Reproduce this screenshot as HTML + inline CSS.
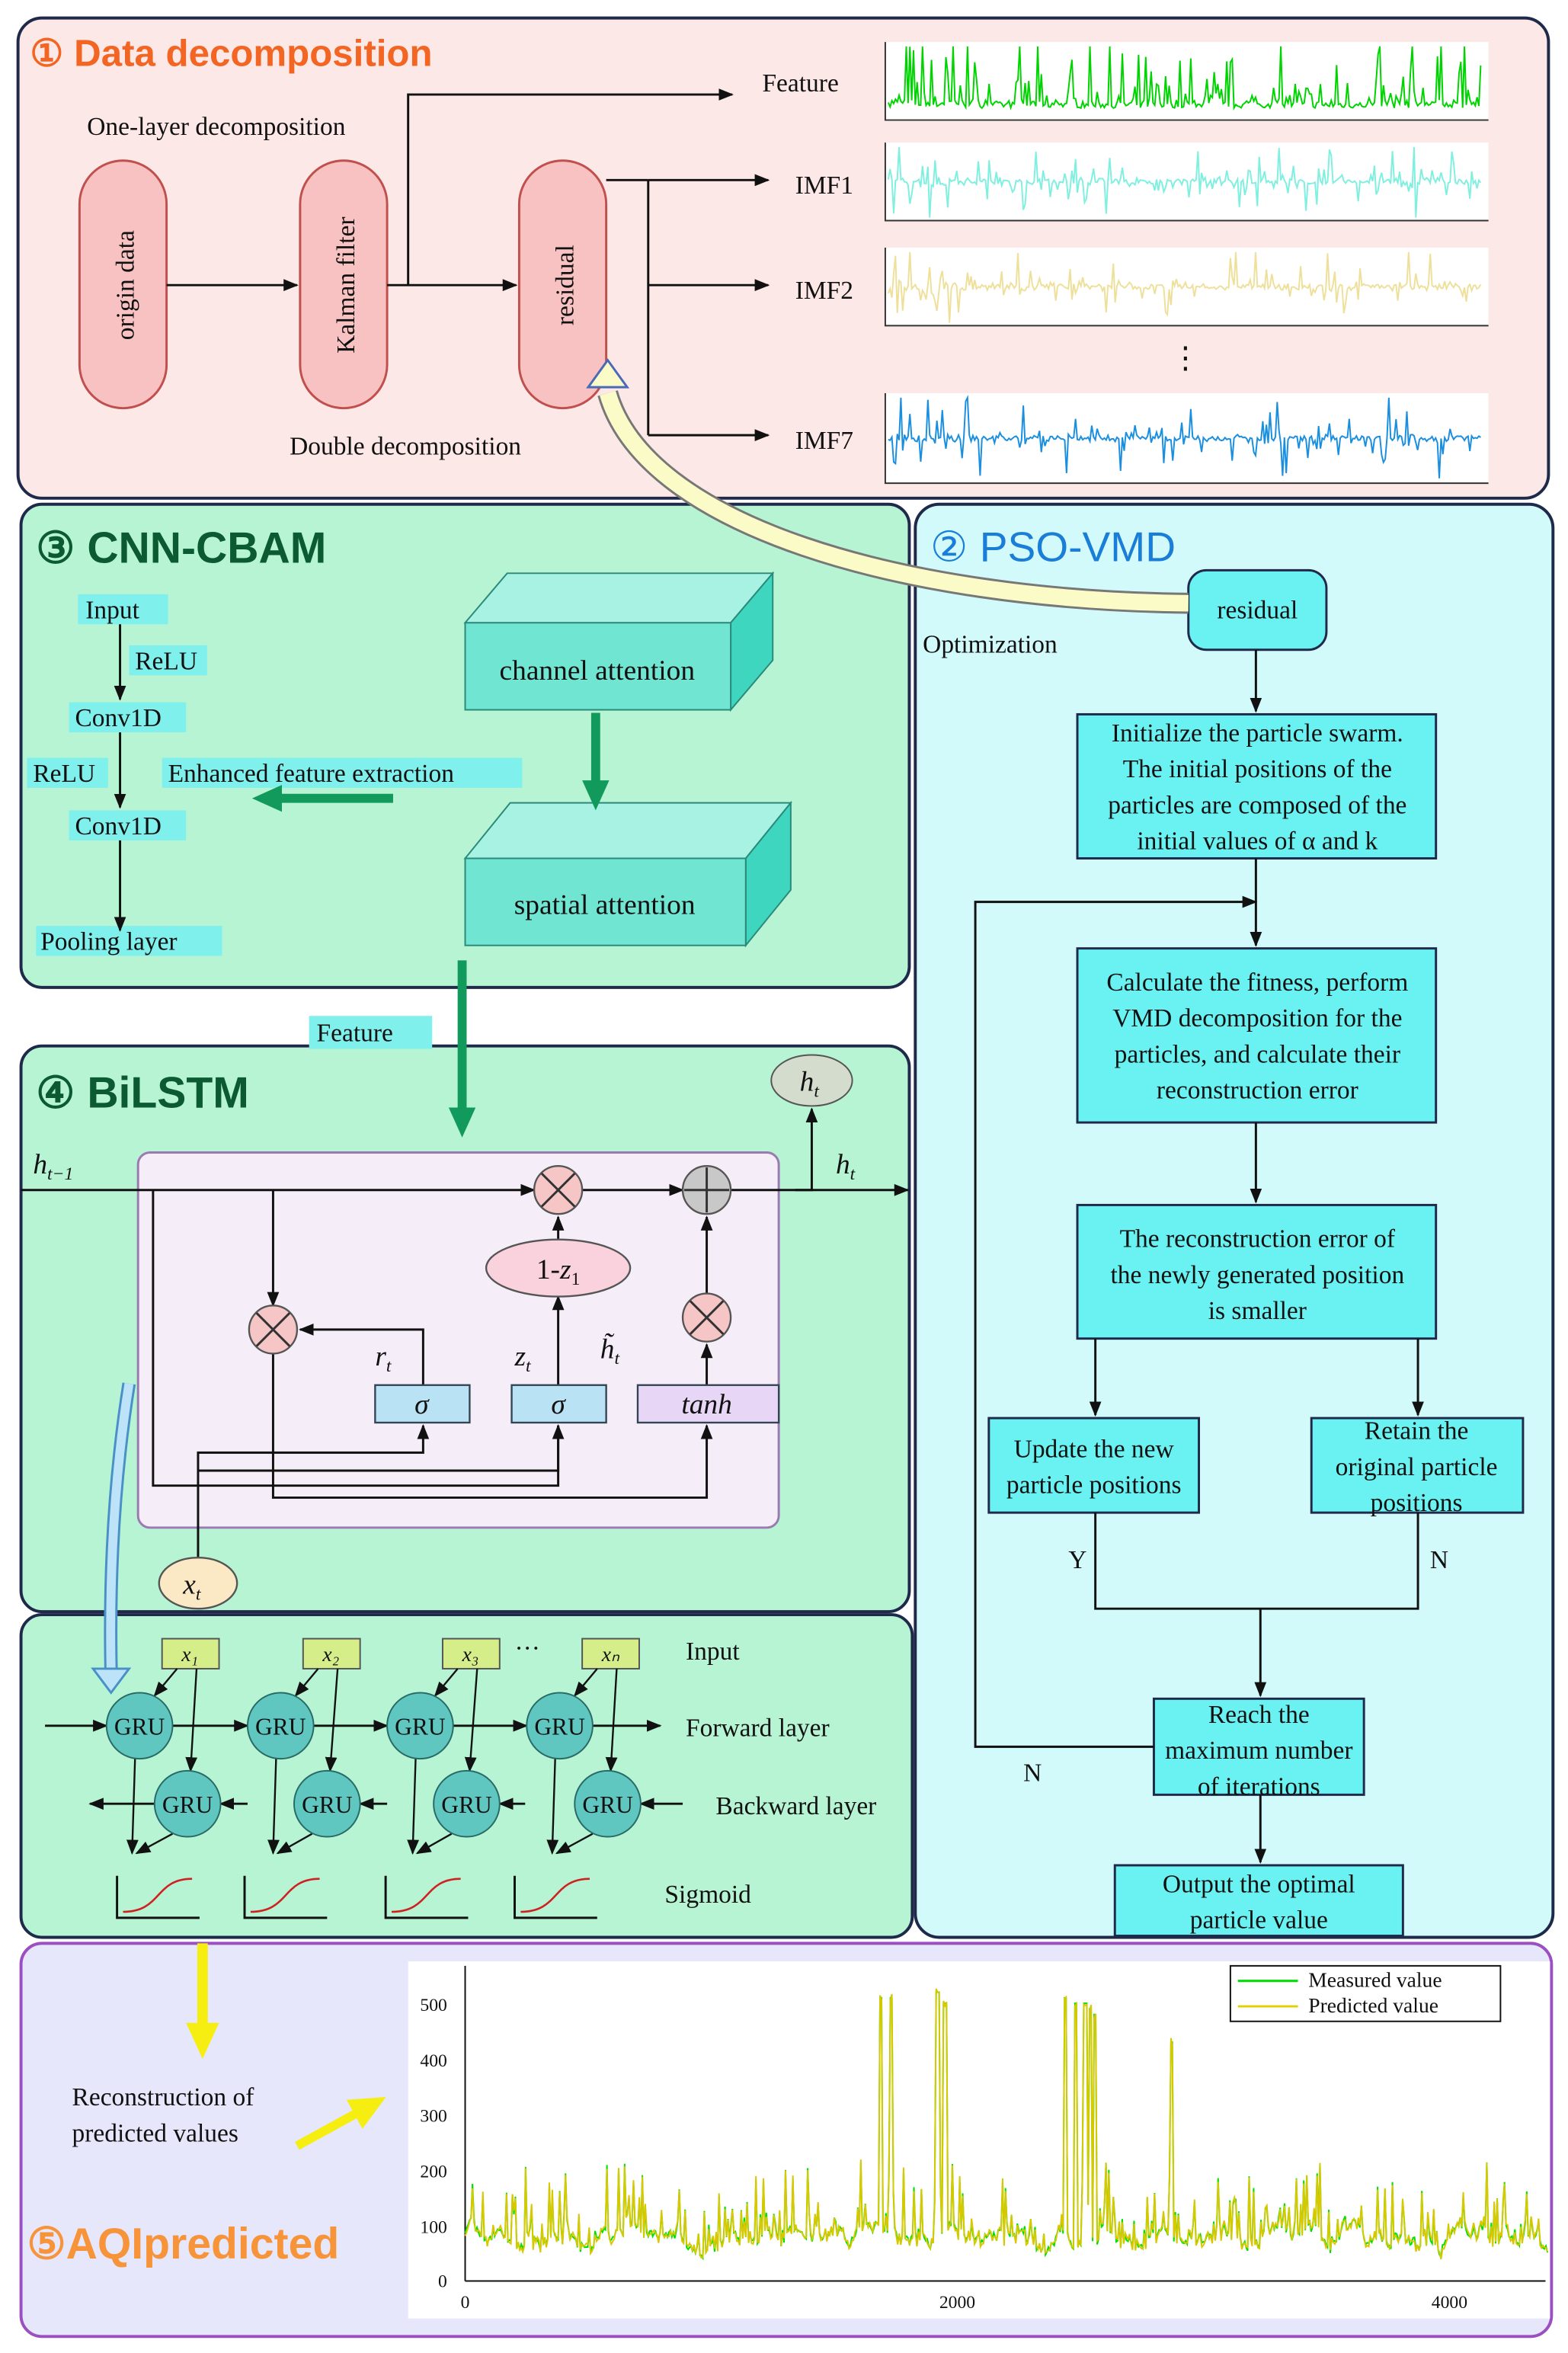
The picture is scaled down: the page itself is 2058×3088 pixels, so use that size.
<!DOCTYPE html>
<html><head><meta charset="utf-8"><style>
html,body{margin:0;padding:0;background:#fff}
svg{display:block}
text{font-family:"Liberation Serif",serif;fill:#111}
.s{font-family:"Liberation Sans",sans-serif}
</style></head><body>
<svg id="svg" width="2058" height="3088" viewBox="0 0 1045 1568" xmlns="http://www.w3.org/2000/svg">
<defs>
<marker id="a" markerWidth="10" markerHeight="10" refX="9" refY="5" orient="auto" markerUnits="userSpaceOnUse"><path d="M0,1 L10,5 L0,9 z" fill="#111"/></marker>
<marker id="g" markerWidth="22" markerHeight="22" refX="2" refY="11" orient="auto" markerUnits="userSpaceOnUse"><path d="M0,2 L20,11 L0,20 z" fill="#119a5c"/></marker>
<marker id="y" markerWidth="26" markerHeight="26" refX="2" refY="13" orient="auto" markerUnits="userSpaceOnUse"><path d="M0,2 L24,13 L0,24 z" fill="#f5ee10"/></marker>
</defs>

<!-- Section 1 -->
<rect x="12" y="12" width="1020" height="320" rx="16" fill="#fde8e8" stroke="#1f2a4a" stroke-width="2"/>
<text x="20" y="44" class="s" font-size="25" font-weight="bold" style="fill:#f26522">① Data decomposition</text>
<text x="58" y="90" font-size="17">One-layer decomposition</text>
<text x="193" y="303" font-size="17">Double decomposition</text>
<g fill="#f9c2c2" stroke="#c0504d" stroke-width="1.5">
<rect x="53" y="107" width="58" height="165" rx="29"/>
<rect x="200" y="107" width="58" height="165" rx="29"/>
<rect x="346" y="107" width="58" height="165" rx="29"/>
</g>
<text transform="translate(89,190) rotate(-90)" text-anchor="middle" font-size="17">origin data</text>
<text transform="translate(236,190) rotate(-90)" text-anchor="middle" font-size="17">Kalman filter</text>
<text transform="translate(382,190) rotate(-90)" text-anchor="middle" font-size="17">residual</text>
<g stroke="#111" stroke-width="1.5" fill="none">
<line x1="111" y1="190" x2="198" y2="190" marker-end="url(#a)"/>
<line x1="258" y1="190" x2="344" y2="190" marker-end="url(#a)"/>
<polyline points="272,190 272,63 488,63" marker-end="url(#a)"/>
<line x1="404" y1="120" x2="432" y2="120"/>
<line x1="432" y1="120" x2="432" y2="290"/>
<line x1="432" y1="120" x2="512" y2="120" marker-end="url(#a)"/>
<line x1="432" y1="190" x2="512" y2="190" marker-end="url(#a)"/>
<line x1="432" y1="290" x2="512" y2="290" marker-end="url(#a)"/>
</g>
<text x="508" y="61" font-size="17">Feature</text>
<text x="530" y="129" font-size="17">IMF1</text>
<text x="530" y="199" font-size="17">IMF2</text>
<text x="530" y="299" font-size="17">IMF7</text>
<text x="780" y="245" font-size="20">⋮</text>
<g id="sig"></g>

<!-- Section 3 CNN-CBAM -->
<rect x="14" y="336" width="592" height="322" rx="14" fill="#b6f4d4" stroke="#1f2a4a" stroke-width="2"/>
<text x="24" y="375" class="s" font-size="29" font-weight="bold" style="fill:#0b5a32">③ CNN-CBAM</text>
<g fill="#7ff0ec">
<rect x="52" y="396" width="60" height="20"/><rect x="86" y="430" width="52" height="20"/>
<rect x="46" y="468" width="78" height="20"/><rect x="18" y="505" width="54" height="20"/>
<rect x="108" y="505" width="240" height="20"/><rect x="46" y="540" width="78" height="20"/>
<rect x="24" y="617" width="124" height="20"/>
</g>
<g font-size="17">
<text x="57" y="412">Input</text><text x="90" y="446">ReLU</text><text x="50" y="484">Conv1D</text>
<text x="22" y="521">ReLU</text><text x="112" y="521">Enhanced feature extraction</text>
<text x="50" y="556">Conv1D</text><text x="27" y="633">Pooling layer</text>
</g>
<g stroke="#111" stroke-width="1.5">
<line x1="80" y1="416" x2="80" y2="466" marker-end="url(#a)"/>
<line x1="80" y1="488" x2="80" y2="538" marker-end="url(#a)"/>
<line x1="80" y1="560" x2="80" y2="620" marker-end="url(#a)"/>
</g>
<g stroke="#2a8a7a" stroke-width="1">
<polygon points="310,415 487,415 515,382 338,382" fill="#a8f2e4"/>
<polygon points="487,415 515,382 515,440 487,473" fill="#3fd6c0"/>
<rect x="310" y="415" width="177" height="58" fill="#70e6d2"/>
<polygon points="310,572 497,572 527,535 340,535" fill="#a8f2e4"/>
<polygon points="497,572 527,535 527,593 497,630" fill="#3fd6c0"/>
<rect x="310" y="572" width="187" height="58" fill="#70e6d2"/>
</g>
<text x="398" y="453" text-anchor="middle" font-size="19">channel attention</text>
<text x="403" y="609" text-anchor="middle" font-size="19">spatial attention</text>
<g stroke="#119a5c" stroke-width="6" fill="none">
<line x1="397" y1="475" x2="397" y2="522" marker-end="url(#g)"/>
<line x1="262" y1="532" x2="186" y2="532" marker-end="url(#g)"/>
</g>

<!-- Section 2 PSO-VMD -->
<rect x="610" y="336" width="425" height="955" rx="16" fill="#d3fafa" stroke="#1f2a4a" stroke-width="2"/>
<text x="620" y="374" class="s" font-size="28" style="fill:#1a7ed8">② PSO-VMD</text>
<text x="615" y="435" font-size="17">Optimization</text>
<g fill="#6af2f2" stroke="#1f2a4a" stroke-width="1.5">
<rect x="792" y="380" width="92" height="53" rx="12"/>
<rect x="718" y="476" width="239" height="96"/>
<rect x="718" y="632" width="239" height="116"/>
<rect x="718" y="803" width="239" height="89"/>
<rect x="659" y="945" width="140" height="63"/>
<rect x="874" y="945" width="141" height="63"/>
<rect x="769" y="1132" width="140" height="64"/>
<rect x="743" y="1243" width="192" height="47"/>
</g>
<g font-size="17" text-anchor="middle">
<text x="838" y="412">residual</text>
<text x="838" y="494">Initialize the particle swarm.</text>
<text x="838" y="518">The initial positions of the</text>
<text x="838" y="542">particles are composed of the</text>
<text x="838" y="566">initial values of α and k</text>
<text x="838" y="660">Calculate the fitness, perform</text>
<text x="838" y="684">VMD decomposition for the</text>
<text x="838" y="708">particles, and calculate their</text>
<text x="838" y="732">reconstruction error</text>
<text x="838" y="831">The reconstruction error of</text>
<text x="838" y="855">the newly generated position</text>
<text x="838" y="879">is smaller</text>
<text x="729" y="971">Update the new</text>
<text x="729" y="995">particle positions</text>
<text x="944" y="959">Retain the</text>
<text x="944" y="983">original particle</text>
<text x="944" y="1007">positions</text>
<text x="839" y="1148">Reach the</text>
<text x="839" y="1172">maximum number</text>
<text x="839" y="1196">of iterations</text>
<text x="839" y="1261">Output the optimal</text>
<text x="839" y="1285">particle value</text>
</g>
<text x="712" y="1045" font-size="17">Y</text><text x="953" y="1045" font-size="17">N</text><text x="682" y="1187" font-size="17">N</text>
<g stroke="#111" stroke-width="1.5" fill="none">
<line x1="837" y1="433" x2="837" y2="474" marker-end="url(#a)"/>
<line x1="837" y1="572" x2="837" y2="630" marker-end="url(#a)"/>
<polyline points="769,1164 650,1164 650,601 837,601" marker-end="url(#a)"/>
<line x1="837" y1="748" x2="837" y2="801" marker-end="url(#a)"/>
<line x1="730" y1="892" x2="730" y2="943" marker-end="url(#a)"/>
<line x1="945" y1="892" x2="945" y2="943" marker-end="url(#a)"/>
<polyline points="730,1008 730,1072 945,1072 945,1008"/>
<line x1="840" y1="1072" x2="840" y2="1130" marker-end="url(#a)"/>
<line x1="840" y1="1196" x2="840" y2="1241" marker-end="url(#a)"/>
</g>

<!-- Section 4 BiLSTM -->
<rect x="14" y="697" width="592" height="377" rx="14" fill="#b6f4d4" stroke="#1f2a4a" stroke-width="2"/>
<line x1="308" y1="640" x2="308" y2="740" stroke="#119a5c" stroke-width="6" marker-end="url(#g)"/>
<rect x="206" y="677" width="82" height="22" fill="#7ff0ec"/>
<text x="211" y="694" font-size="17">Feature</text>
<text x="24" y="738" class="s" font-size="29" font-weight="bold" style="fill:#0b5a32">④ BiLSTM</text>
<rect x="92" y="768" width="427" height="250" rx="8" fill="#f5eef8" stroke="#9a7ab0" stroke-width="1.5"/>
<ellipse cx="541" cy="720" rx="27" ry="17" fill="#d3dccd" stroke="#555"/>
<text x="533" y="727" font-size="19" font-style="italic">h<tspan font-size="12" dy="4">t</tspan></text>
<text x="22" y="782" font-size="19" font-style="italic">h<tspan font-size="12" dy="4">t−1</tspan></text>
<text x="557" y="782" font-size="19" font-style="italic">h<tspan font-size="12" dy="4">t</tspan></text>
<g stroke="#111" stroke-width="1.5" fill="none">
<line x1="14" y1="793" x2="356" y2="793" marker-end="url(#a)"/>
<line x1="388" y1="793" x2="455" y2="793" marker-end="url(#a)"/>
<polyline points="487,793 530,793 541,793 541,739" marker-end="url(#a)"/>
<line x1="530" y1="793" x2="605" y2="793" marker-end="url(#a)"/>
<polyline points="182,793 182,870" marker-end="url(#a)"/>
<polyline points="102,793 102,990 372,990 372,950" marker-end="url(#a)"/>
<polyline points="282,923 282,886 200,886" marker-end="url(#a)"/>
<polyline points="182,902 182,998 471,998 471,950" marker-end="url(#a)"/>
<line x1="372" y1="923" x2="372" y2="864" marker-end="url(#a)"/>
<line x1="372" y1="826" x2="372" y2="811" marker-end="url(#a)"/>
<line x1="471" y1="923" x2="471" y2="896" marker-end="url(#a)"/>
<line x1="471" y1="862" x2="471" y2="811" marker-end="url(#a)"/>
<polyline points="132,1038 132,968 282,968 282,950" marker-end="url(#a)"/>
<polyline points="132,980 372,980 372,950"/>
</g>
<g stroke="#555" stroke-width="1.2">
<circle cx="372" cy="793" r="16" fill="#f6c6c6"/><circle cx="471" cy="793" r="16" fill="#c8c8c8"/>
<circle cx="182" cy="886" r="16" fill="#f6c6c6"/><circle cx="471" cy="878" r="16" fill="#f6c6c6"/>
<ellipse cx="372" cy="845" rx="48" ry="19" fill="#f9d2de"/>
<rect x="250" y="923" width="63" height="25" fill="#b9e3f5" stroke="#345"/>
<rect x="341" y="923" width="63" height="25" fill="#b9e3f5" stroke="#345"/>
<rect x="425" y="923" width="94" height="25" fill="#e7d6f6" stroke="#345"/>
<ellipse cx="132" cy="1055" rx="26" ry="17" fill="#fbe8c4"/>
</g>
<g stroke="#333" stroke-width="1.5">
<path d="M361,782 L383,804 M383,782 L361,804 M171,875 L193,897 M193,875 L171,897 M460,867 L482,889 M482,867 L460,889 M471,778 L471,808 M456,793 L486,793"/>
</g>
<text x="372" y="852" text-anchor="middle" font-size="19">1-<tspan font-style="italic">z</tspan><tspan font-size="12" dy="4">1</tspan></text>
<text x="281" y="942" text-anchor="middle" font-size="19" font-style="italic">σ</text>
<text x="372" y="942" text-anchor="middle" font-size="19" font-style="italic">σ</text>
<text x="471" y="942" text-anchor="middle" font-size="19" font-style="italic">tanh</text>
<text x="250" y="910" font-size="19" font-style="italic">r<tspan font-size="12" dy="4">t</tspan></text>
<text x="343" y="910" font-size="19" font-style="italic">z<tspan font-size="12" dy="4">t</tspan></text>
<text x="400" y="905" font-size="19" font-style="italic">h̃<tspan font-size="12" dy="4">t</tspan></text>
<text x="122" y="1062" font-size="19" font-style="italic">x<tspan font-size="12" dy="4">t</tspan></text>

<!-- Section 5 BiGRU -->
<rect x="14" y="1076" width="594" height="215" rx="14" fill="#b6f4d4" stroke="#1f2a4a" stroke-width="2"/>
<path d="M86,922 Q72,1010 74,1112" stroke="#4a90c8" stroke-width="9" fill="none"/>
<path d="M86,922 Q72,1010 74,1112" stroke="#bde3f8" stroke-width="6" fill="none"/>
<polygon points="62,1112 86,1112 74,1128" fill="#bde3f8" stroke="#4a90c8" stroke-width="1.5"/>
<g id="gru"></g>
<text x="457" y="1106" font-size="17">Input</text>
<text x="457" y="1157" font-size="17">Forward layer</text>
<text x="477" y="1209" font-size="17">Backward layer</text>
<text x="443" y="1268" font-size="17">Sigmoid</text>
<text x="343" y="1104" font-size="17">···</text>

<!-- Curved yellow arrow -->
<path d="M792,402 C600,400 430,350 405,262" stroke="#777" stroke-width="14" fill="none"/>
<path d="M792,402 C600,400 430,350 405,262" stroke="#fbfbc8" stroke-width="11" fill="none"/>
<polygon points="392,258 418,258 405,240" fill="#fbfbc8" stroke="#4a6ab8" stroke-width="1.5"/>

<!-- Section 6 AQI -->
<rect x="14" y="1295" width="1020" height="262" rx="14" fill="#e6e7fb" stroke="#9b4fc0" stroke-width="2"/>
<line x1="135" y1="1295" x2="135" y2="1350" stroke="#f5ee10" stroke-width="7" marker-end="url(#y)"/>
<line x1="198" y1="1430" x2="238" y2="1408" stroke="#f5ee10" stroke-width="6" marker-end="url(#y)"/>
<text x="48" y="1403" font-size="17">Reconstruction of</text>
<text x="48" y="1427" font-size="17">predicted values</text>
<text x="18" y="1505" class="s" font-size="29" font-weight="bold" style="fill:#f7943a">⑤AQIpredicted</text>
<rect x="272" y="1307" width="761" height="238" fill="#fff"/>
<g stroke="#111" stroke-width="1">
<line x1="310" y1="1310" x2="310" y2="1520"/><line x1="310" y1="1520" x2="1030" y2="1520"/>
</g>
<g font-size="12" text-anchor="end">
<text x="298" y="1524">0</text><text x="298" y="1488">100</text><text x="298" y="1451">200</text>
<text x="298" y="1414">300</text><text x="298" y="1377">400</text><text x="298" y="1340">500</text>
</g>
<g font-size="12" text-anchor="middle"><text x="310" y="1538">0</text><text x="638" y="1538">2000</text><text x="966" y="1538">4000</text></g>
<g id="aqi"></g>
<rect x="820" y="1310" width="180" height="37" fill="#fff" stroke="#111"/>
<line x1="825" y1="1320" x2="865" y2="1320" stroke="#00e000" stroke-width="1.5"/>
<line x1="825" y1="1337" x2="865" y2="1337" stroke="#e0d000" stroke-width="1.5"/>
<text x="872" y="1324" font-size="14">Measured value</text>
<text x="872" y="1341" font-size="14">Predicted value</text>
</svg>
<script>
var NS="http://www.w3.org/2000/svg";
var seed=7;function r(){seed=(seed*16807)%2147483647;return seed/2147483647;}
function el(p,t,a){var e=document.createElementNS(NS,t);for(var k in a)e.setAttribute(k,a[k]);p.appendChild(e);return e;}
var sig=document.getElementById('sig');
var panels=[[28,80,'#00d400',1],[95,147,'#7ff0e0',0],[165,217,'#eee09a',0],[262,322,'#1a8fe0',0]];
panels.forEach(function(p){
 el(sig,'rect',{x:590,y:p[0],width:402,height:p[1]-p[0],fill:'#fff'});
 el(sig,'polyline',{points:'590,'+p[0]+' 590,'+p[1]+' 992,'+p[1],fill:'none',stroke:'#333','stroke-width':1});
 var base=p[3]?p[1]-8:(p[0]+p[1])/2, pts=[];
 for(var x=592;x<988;x+=1.2){var a=Math.pow(r(),9)*(p[1]-p[0])*0.9+r()*(p[3]?4:3); if((x>600&&x<650)||(x>930&&x<960))a*=1.6;
  var v=p[3]?base-a:base+(r()<.5?-1:1)*a*0.5; v=Math.max(p[0]+3,Math.min(p[1]-2,v)); pts.push(x.toFixed(1)+','+v.toFixed(1));}
 el(sig,'polyline',{points:pts.join(' '),fill:'none',stroke:p[2],'stroke-width':1});
});
var g=document.getElementById('gru');
var fx=[93,187,280,373],bx=[125,218,311,405];
for(var i=0;i<4;i++){
 el(g,'rect',{x:fx[i]+15,y:1092,width:38,height:20,fill:'#d6ee8a',stroke:'#555'});
 var t=el(g,'text',{x:fx[i]+28,y:1107,'font-size':14,'font-style':'italic'});t.textContent=['x₁','x₂','x₃','xₙ'][i];
 el(g,'line',{x1:fx[i]+25,y1:1112,x2:fx[i]+10,y2:1130,stroke:'#111','stroke-width':1.2,'marker-end':'url(#a)'});
 el(g,'line',{x1:fx[i]+38,y1:1112,x2:bx[i]+2,y2:1180,stroke:'#111','stroke-width':1.2,'marker-end':'url(#a)'});
 el(g,'line',{x1:fx[i]-3,y1:1172,x2:fx[i]-5,y2:1235,stroke:'#111','stroke-width':1.2,'marker-end':'url(#a)'});
 el(g,'line',{x1:bx[i]-10,y1:1222,x2:fx[i]-2,y2:1235,stroke:'#111','stroke-width':1.2,'marker-end':'url(#a)'});
 var sx=[78,163,257,343][i];
 el(g,'polyline',{points:sx+',1250 '+sx+',1278 '+(sx+55)+',1278',fill:'none',stroke:'#111','stroke-width':1.5});
 el(g,'path',{d:'M'+(sx+4)+',1274 C'+(sx+30)+',1274 '+(sx+25)+',1252 '+(sx+50)+',1252',fill:'none',stroke:'#d02020','stroke-width':1.3});
}
var fa=[[30,71],[115,165],[208,258],[302,351],[395,440]];
fa.forEach(function(a){el(g,'line',{x1:a[0],y1:1150,x2:a[1],y2:1150,stroke:'#111','stroke-width':1.5,'marker-end':'url(#a)'});});
var ba=[[455,427],[350,333],[258,240],[165,147],[103,60]];
ba.forEach(function(a){el(g,'line',{x1:a[0],y1:1202,x2:a[1],y2:1202,stroke:'#111','stroke-width':1.5,'marker-end':'url(#a)'});});
for(var i=0;i<4;i++){
 el(g,'circle',{cx:fx[i],cy:1150,r:22,fill:'#5fc7c0',stroke:'#2a6a66'});
 el(g,'circle',{cx:bx[i],cy:1202,r:22,fill:'#5fc7c0',stroke:'#2a6a66'});
 var t1=el(g,'text',{x:fx[i],y:1156,'font-size':16,'text-anchor':'middle'});t1.textContent='GRU';
 var t2=el(g,'text',{x:bx[i],y:1208,'font-size':16,'text-anchor':'middle'});t2.textContent='GRU';
}
var aq=document.getElementById('aqi');var pm=[],pp=[];var v=80;
var spikes={1690:510,1730:510,1920:520,1950:500,2440:510,2480:500,2520:500,2540:490,2560:480,2870:430};
for(var n=0;n<4400;n+=6){v+= (r()-0.5)*30; v+= (80-v)*0.15; var val=Math.max(15,v+Math.pow(r(),8)*130);
 for(var k in spikes){if(Math.abs(n-k)<8)val=spikes[k];}
 var x=310+n*0.164,y=1520-val*0.37;
 pm.push(x.toFixed(1)+','+y.toFixed(1));pp.push(x.toFixed(1)+','+(y+ (r()-0.5)*6).toFixed(1));}
el(aq,'polyline',{points:pm.join(' '),fill:'none',stroke:'#00e000','stroke-width':1});
el(aq,'polyline',{points:pp.join(' '),fill:'none',stroke:'#d8c800','stroke-width':1});
</script>
</body></html>
